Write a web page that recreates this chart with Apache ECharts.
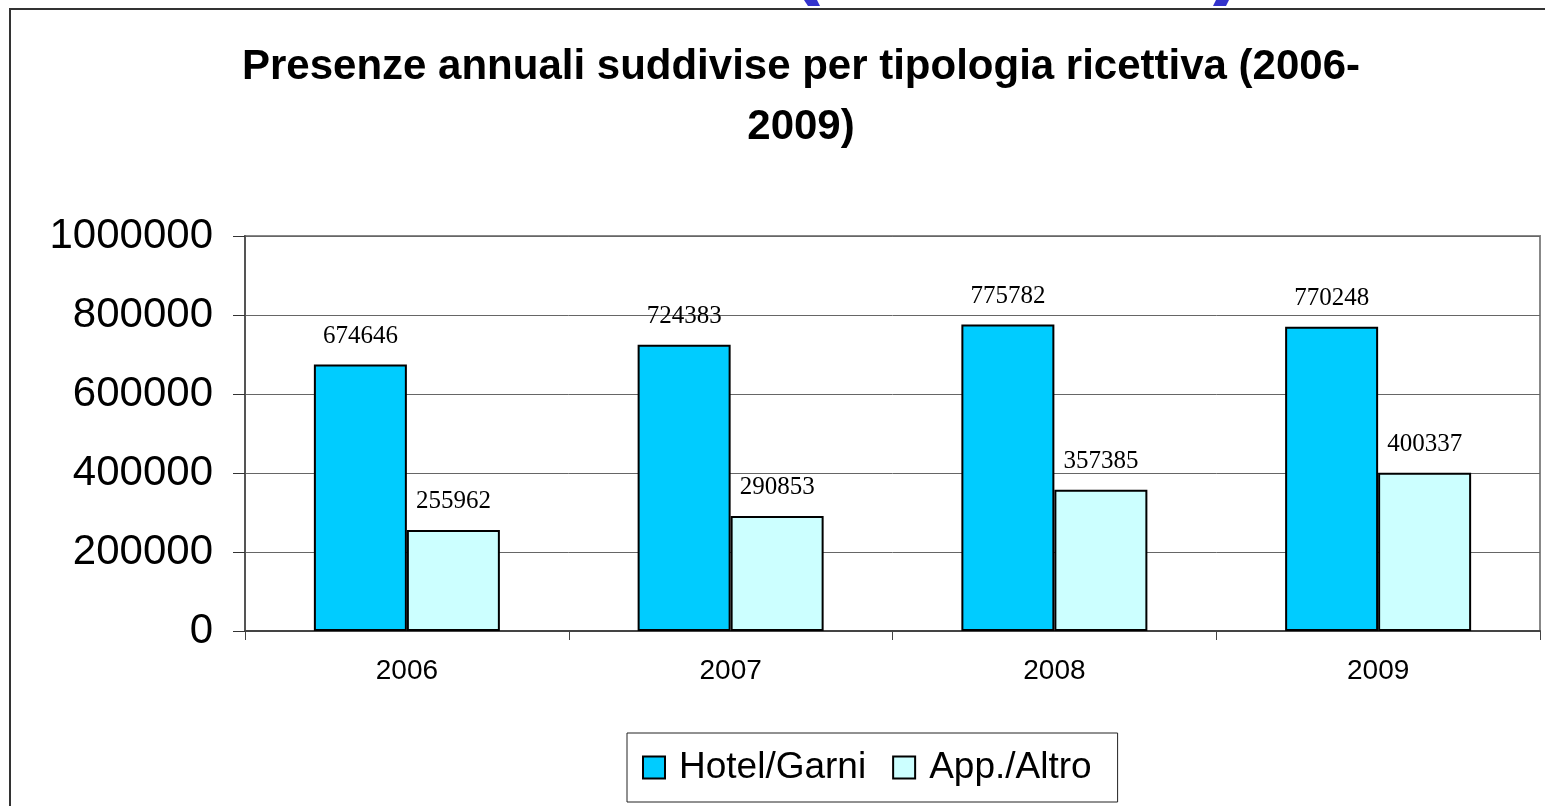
<!DOCTYPE html>
<html>
<head>
    <meta charset="UTF-8">
    <title>Presenze annuali</title>
    <script src="https://cdn.jsdelivr.net/npm/echarts@6/dist/echarts.min.js"></script>
</head>
<body style="margin: 0; background: #fff">
    <div id="container" style="width: 1545px; height: 806px"></div>
    <script type="text/javascript">
        var years = ['2006', '2007', '2008', '2009'];
        var hotel = [674646, 724383, 775782, 770248];
        var altro = [255962, 290853, 357385, 400337];
        var seriesNames = ['Hotel/Garni', 'App./Altro'];
        var titleText = 'Presenze annuali suddivise per tipologia ricettiva (2006-\n2009)';

        var myChart = echarts.init(document.getElementById('container'));

        var labelStyle = {
            show: true,
            position: 'top',
            distance: 16,
            fontFamily: '"Liberation Serif", "Times New Roman", serif',
            fontSize: 25,
            color: '#000'
        };

        var option = {
            backgroundColor: '#fff',
            animation: false,
            textStyle: { fontFamily: '"Liberation Sans", Arial, sans-serif' },
            graphic: [
                // cornice esterna del grafico
                {
                    type: 'rect', z: -1, silent: true,
                    shape: { x: 10, y: 9, width: 1600, height: 900 },
                    style: { fill: 'none', stroke: '#333', lineWidth: 2 }
                },
                {
                    type: 'polygon', silent: true,
                    shape: { points: [[804, 0], [817, 0], [820, 6], [808, 6]] },
                    style: { fill: '#3333cc' }
                },
                {
                    type: 'polygon', silent: true,
                    shape: { points: [[1213, 6], [1226, 6], [1229, 0], [1216, 0]] },
                    style: { fill: '#3333cc' }
                }
            ],
            title: {
                text: titleText,
                left: 796,
                top: 32,
                textAlign: 'center',
                textStyle: {
                    fontFamily: '"Liberation Sans", Arial, sans-serif',
                    fontWeight: 'bold',
                    fontSize: 42,
                    lineHeight: 60,
                    color: '#000'
                }
            },
            legend: {
                data: seriesNames,
                left: 627,
                top: 733,
                padding: [16, 26, 16, 15],
                itemWidth: 22,
                itemHeight: 22,
                itemGap: 26,
                borderColor: '#222',
                borderWidth: 1,
                icon: 'rect',
                itemStyle: { borderColor: '#000', borderWidth: 2 },
                textStyle: {
                    fontFamily: '"Liberation Sans", Arial, sans-serif',
                    fontSize: 37,
                    color: '#000',
                    padding: [0, 0, 0, 9]
                }
            },
            grid: {
                left: 245,
                right: 5,
                top: 236,
                bottom: 175,
                show: true,
                borderColor: '#888',
                borderWidth: 2,
                containLabel: false
            },
            xAxis: {
                type: 'category',
                data: years,
                axisLine: { lineStyle: { color: '#444', width: 2 } },
                axisTick: { show: true, inside: false, length: 9, alignWithLabel: false, lineStyle: { color: '#444', width: 1 } },
                axisLabel: {
                    margin: 26,
                    fontSize: 28,
                    color: '#000',
                    fontFamily: '"Liberation Sans", Arial, sans-serif'
                }
            },
            yAxis: {
                type: 'value',
                min: 0,
                max: 1000000,
                interval: 200000,
                axisLine: { show: true, lineStyle: { color: '#555', width: 2 } },
                axisTick: { show: true, length: 12, lineStyle: { color: '#333', width: 1 } },
                axisLabel: {
                    margin: 32,
                    fontSize: 42,
                    color: '#000',
                    fontFamily: '"Liberation Sans", Arial, sans-serif',
                    formatter: function (v) { return String(v); }
                },
                splitLine: { show: true, lineStyle: { color: '#666', width: 1 } }
            },
            series: [
                {
                    name: seriesNames[0],
                    type: 'bar',
                    data: hotel,
                    barWidth: 93,
                    barGap: '0%',
                    itemStyle: { color: '#00ccff', borderColor: '#000', borderWidth: 2 },
                    label: labelStyle
                },
                {
                    name: seriesNames[1],
                    type: 'bar',
                    data: altro,
                    barWidth: 93,
                    barGap: '0%',
                    itemStyle: { color: '#ccffff', borderColor: '#000', borderWidth: 2 },
                    label: labelStyle
                }
            ]
        };

        myChart.setOption(option);
    </script>
</body>
</html>
